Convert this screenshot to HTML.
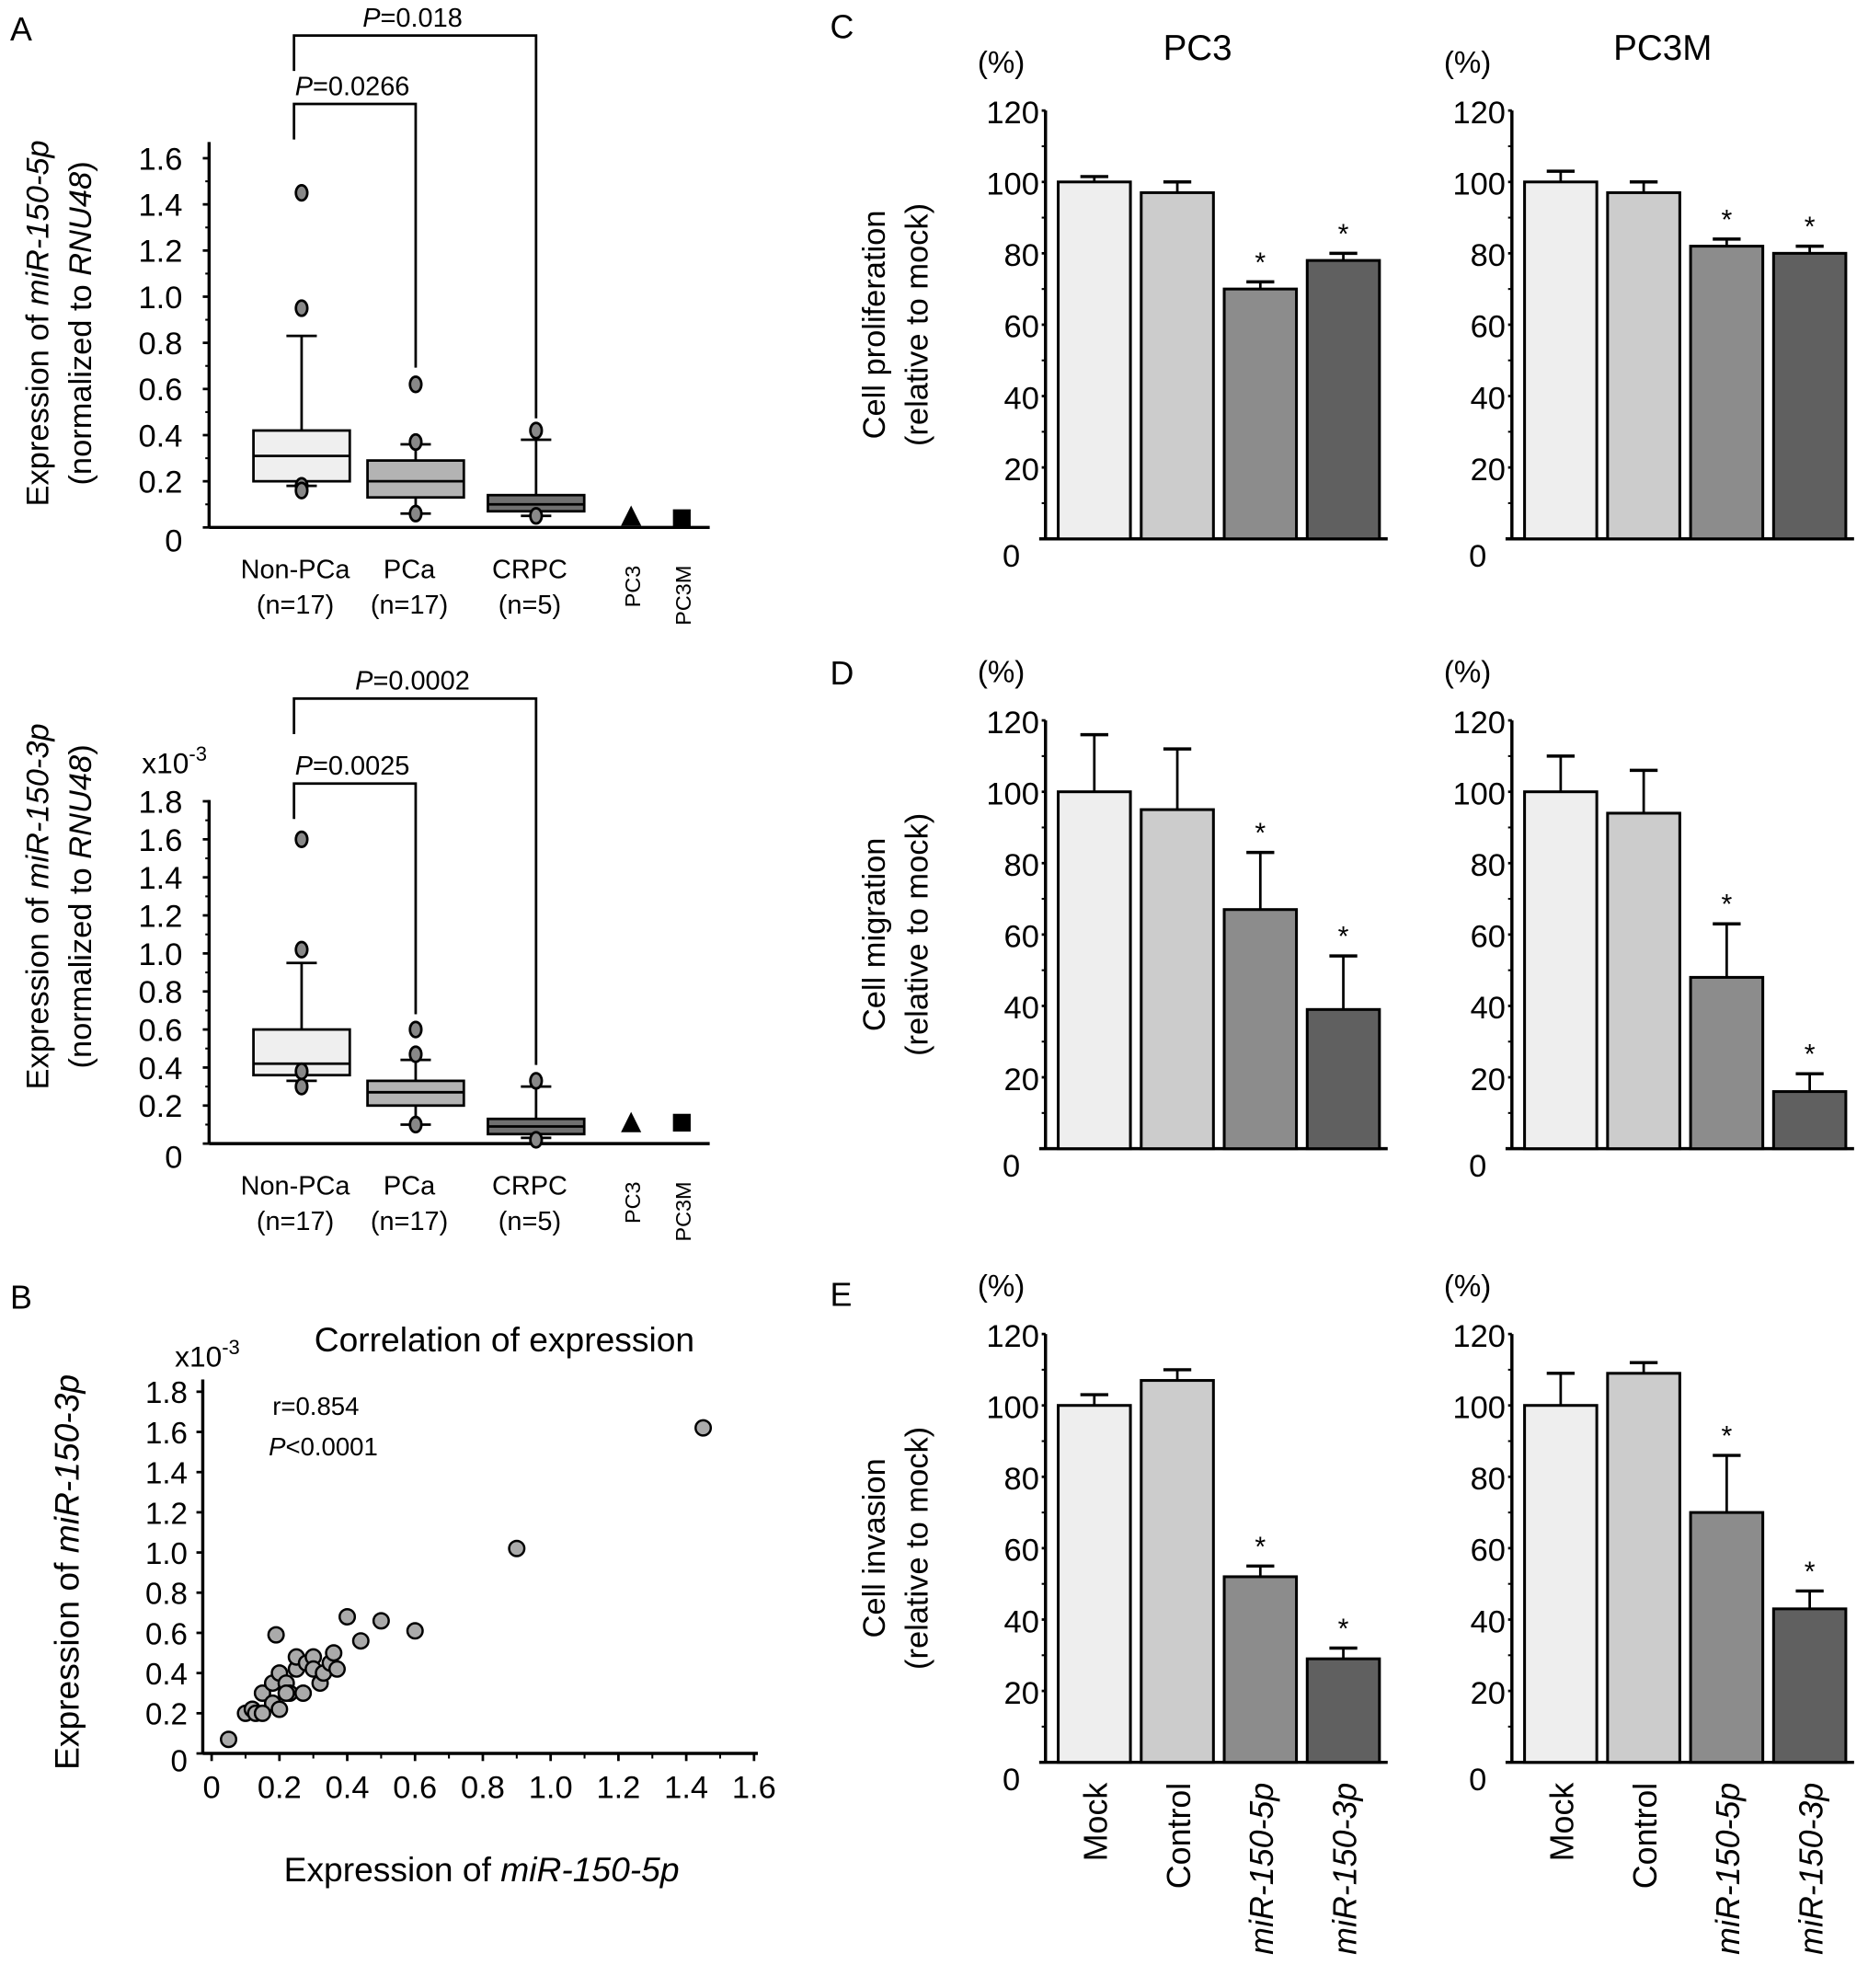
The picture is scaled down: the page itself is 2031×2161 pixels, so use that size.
<!DOCTYPE html>
<html><head><meta charset="utf-8"><style>
html,body{margin:0;padding:0;background:#fff}
svg{display:block;font-family:"Liberation Sans",Arial,sans-serif}
</style></head><body>
<svg id="fig" xmlns="http://www.w3.org/2000/svg" width="2031" height="2161" viewBox="0 0 1474 1568" preserveAspectRatio="none">
<g id="static" fill="#000">
<text x="8" y="32" font-size="26">A</text>
<text x="8" y="1032" font-size="26">B</text>
<text x="655" y="30" font-size="26">C</text>
<text x="655" y="540" font-size="26">D</text>
<text x="655" y="1030" font-size="26">E</text>
<text x="945" y="47" font-size="28" text-anchor="middle">PC3</text>
<text x="1312" y="47" font-size="28" text-anchor="middle">PC3M</text>
<g font-size="25" text-anchor="middle">
<text transform="translate(38,255) rotate(-90)">Expression  of <tspan font-style="italic">miR-150-5p</tspan></text>
<text transform="translate(72,255) rotate(-90)">(normalized to <tspan font-style="italic">RNU48</tspan>)</text>
<text transform="translate(38,715) rotate(-90)">Expression  of <tspan font-style="italic">miR-150-3p</tspan></text>
<text transform="translate(72,715) rotate(-90)">(normalized to <tspan font-style="italic">RNU48</tspan>)</text>
<text transform="translate(62,1240) rotate(-90)" font-size="27">Expression of <tspan font-style="italic">miR-150-3p</tspan></text>
<text x="380" y="1484" font-size="27">Expression of <tspan font-style="italic">miR-150-5p</tspan></text>
<text x="398" y="1066" font-size="27">Correlation of expression</text>
</g>
<text x="215" y="1116" font-size="20">r=0.854</text>
<text x="212" y="1148" font-size="20"><tspan font-style="italic">P</tspan>&lt;0.0001</text>
<text x="112" y="610" font-size="23">x10<tspan dy="-10" font-size="16">-3</tspan></text>
<text x="138" y="1078" font-size="23">x10<tspan dy="-10" font-size="16">-3</tspan></text>
</g>
<g id="dyn"></g>
</svg>
<script>
// ---- Panel A data ----
const groupsA = ["Non-PCa","PCa","CRPC"];
const groupNs = ["(n=17)","(n=17)","(n=5)"];
const cellLines = ["PC3","PC3M"];
const a5pQ1 = [0.20,0.13,0.07];
const a5pMed = [0.31,0.20,0.10];
const a5pQ3 = [0.42,0.29,0.14];
const a5pHi = [0.83,0.36,0.38];
const a5pLo = [0.18,0.06,0.05];
const a5pOut = [[1.45,0.95,0.18,0.16],[0.62,0.37,0.06],[0.42,0.05]];
const a5pCell = [0.04,0.04];
const a3pQ1 = [0.36,0.20,0.05];
const a3pMed = [0.42,0.27,0.09];
const a3pQ3 = [0.60,0.33,0.13];
const a3pHi = [0.95,0.44,0.30];
const a3pLo = [0.33,0.10,0.03];
const a3pOut = [[1.60,1.02,0.38,0.30],[0.60,0.47,0.10],[0.33,0.02]];
const a3pCell = [0.10,0.11];
const aTicks = ["0","0.2","0.4","0.6","0.8","1.0","1.2","1.4","1.6"];
const a3Ticks = ["0","0.2","0.4","0.6","0.8","1.0","1.2","1.4","1.6","1.8"];
const a5pPvals = ["0.0266","0.018"];
const a3pPvals = ["0.0025","0.0002"];
// ---- Panel B data ----
const scatX = [0.05,0.10,0.12,0.13,0.15,0.18,0.18,0.20,0.20,0.22,0.23,0.25,0.25,0.27,0.28,0.30,0.30,0.32,0.33,0.35,0.36,0.37,0.19,0.40,0.44,0.50,0.60,0.90,1.45,0.22,0.15];
const scatY = [0.07,0.20,0.22,0.20,0.30,0.25,0.35,0.22,0.40,0.35,0.30,0.42,0.48,0.30,0.45,0.48,0.42,0.35,0.40,0.45,0.50,0.42,0.59,0.68,0.56,0.66,0.61,1.02,1.62,0.30,0.20];
const bXTicks = ["0","0.2","0.4","0.6","0.8","1.0","1.2","1.4","1.6"];
const bYTicks = ["0","0.2","0.4","0.6","0.8","1.0","1.2","1.4","1.6","1.8"];
// ---- Panels C/D/E data ----
const barCats = ["Mock","Control","miR-150-5p","miR-150-3p"];
const barTicks = ["0","20","40","60","80","100","120"];
const profPC3 = [100,97,70,78], profPC3Err = [1.5,3,2,2];
const profPC3M = [100,97,82,80], profPC3MErr = [3,3,2,2];
const migPC3 = [100,95,67,39], migPC3Err = [16,17,16,15];
const migPC3M = [100,94,48,16], migPC3MErr = [10,12,15,5];
const invPC3 = [100,107,52,29], invPC3Err = [3,3,3,3];
const invPC3M = [100,109,70,43], invPC3MErr = [9,3,16,5];
const sigFlags = [false,false,true,true];

const NS="http://www.w3.org/2000/svg";
const root=document.getElementById('dyn');
function mk(tag,attrs,parent,text){const e=document.createElementNS(NS,tag);for(const k in attrs)e.setAttribute(k,attrs[k]);if(text!==undefined)e.textContent=text;(parent||root).appendChild(e);return e;}

// ---- Box plots ----
function boxPanel(o){
  const g=mk('g',{});
  
  
  const y=v=>o.y0-v*o.per;
  const xs=[238,328,423], cx=[498,538];
  mk('line',{x1:165,y1:o.top,x2:165,y2:o.y0,stroke:'#000','stroke-width':2.5},g);
  mk('line',{x1:165,y1:o.y0,x2:560,y2:o.y0,stroke:'#000','stroke-width':2.5},g);
  o.ticks.forEach((t,i)=>{
    const ty=y(i*0.2);
    mk('line',{x1:160,y1:ty,x2:165,y2:ty,stroke:'#000','stroke-width':2},g);
    if(i>0) mk('line',{x1:162,y1:y(i*0.2-0.1),x2:165,y2:y(i*0.2-0.1),stroke:'#000','stroke-width':1.5},g);
    const lab=mk('text',{x:144,y:ty+(i==0?19:9),'font-size':25,'text-anchor':'end'},g,t);
    
    
  });
  const fills=['#efefef','#b3b3b3','#707070'];
  groupsA.forEach((gname,i)=>{
    const x=xs[i], w=38;
    mk('line',{x1:x,y1:y(o.hi[i]),x2:x,y2:y(o.q3[i]),stroke:'#000','stroke-width':2},g);
    mk('line',{x1:x-12,y1:y(o.hi[i]),x2:x+12,y2:y(o.hi[i]),stroke:'#000','stroke-width':2},g);
    mk('line',{x1:x,y1:y(o.lo[i]),x2:x,y2:y(o.q1[i]),stroke:'#000','stroke-width':2},g);
    mk('line',{x1:x-12,y1:y(o.lo[i]),x2:x+12,y2:y(o.lo[i]),stroke:'#000','stroke-width':2},g);
    const b=mk('rect',{x:x-w,y:y(o.q3[i]),width:2*w,height:y(o.q1[i])-y(o.q3[i]),fill:fills[i],stroke:'#000','stroke-width':2},g);
    
    
    mk('line',{x1:x-w,y1:y(o.med[i]),x2:x+w,y2:y(o.med[i]),stroke:'#000','stroke-width':2},g);
    o.out[i].forEach(v=>{
      const c=mk('ellipse',{cx:x,cy:y(v),rx:4.5,ry:6,fill:'#888',stroke:'#000','stroke-width':2},g);
      
      
    });
    const l1=mk('text',{x:x-5,y:o.y0+40,'font-size':21,'text-anchor':'middle'},g,gname);
    
    
    mk('text',{x:x-5,y:o.y0+68,'font-size':21,'text-anchor':'middle'},g,groupNs[i]);
  });
  const tri=mk('path',{d:`M${cx[0]-8} ${y(o.cell[0])+6} L${cx[0]+8} ${y(o.cell[0])+6} L${cx[0]} ${y(o.cell[0])-10} Z`,fill:'#000'},g);
  
  
  const sq=mk('rect',{x:cx[1]-7,y:y(o.cell[1])-7,width:14,height:14,fill:'#000'},g);
  
  
  cellLines.forEach((c,i)=>{
    const t=mk('text',{transform:`translate(${cx[i]+7},${o.y0+30}) rotate(-90)`,'font-size':17,'text-anchor':'end'},g,c);
    
    
  });
  [[1,o.b1],[2,o.b2]].forEach(([j,by],k)=>{
    mk('path',{d:`M232 ${by+28} L232 ${by} L${xs[j]} ${by} L${xs[j]} ${o.bEnd[k]}`,fill:'none',stroke:'#000','stroke-width':2},g);
    const t=mk('text',{x:(232+xs[j])/2-2,y:by-7,'font-size':21,'text-anchor':'middle'},g);
    
    
    mk('tspan',{'font-style':'italic'},t,'P');
    mk('tspan',{},t,'='+o.pv[k]);
  });
}
boxPanel({name:'panel-a-5p',y0:416,per:182,top:112,ticks:aTicks,q1:a5pQ1,med:a5pMed,q3:a5pQ3,hi:a5pHi,lo:a5pLo,out:a5pOut,cell:a5pCell,b1:82,b2:28,bEnd:[290,330],pv:a5pPvals});
boxPanel({name:'panel-a-3p',y0:902,per:150,top:631,ticks:a3Ticks,q1:a3pQ1,med:a3pMed,q3:a3pQ3,hi:a3pHi,lo:a3pLo,out:a3pOut,cell:a3pCell,b1:618,b2:551,bEnd:[800,840],pv:a3pPvals});

// ---- Scatter ----
(function(){
  const g=mk('g',{});
  
  
  const x=v=>167+v*267.5, y=v=>1383-v*158.5;
  mk('line',{x1:160,y1:1088,x2:160,y2:1383,stroke:'#000','stroke-width':2.5},g);
  mk('line',{x1:160,y1:1383,x2:598,y2:1383,stroke:'#000','stroke-width':2.5},g);
  bYTicks.forEach((t,i)=>{
    const ty=y(i*0.2);
    mk('line',{x1:155,y1:ty,x2:160,y2:ty,stroke:'#000','stroke-width':2},g);
    const l=mk('text',{x:148,y:ty+(i==0?14:9),'font-size':24,'text-anchor':'end'},g,t);
    
    
  });
  bXTicks.forEach((t,i)=>{
    const tx=x(i*0.2);
    mk('line',{x1:tx,y1:1383,x2:tx,y2:1389,stroke:'#000','stroke-width':2},g);
    if(i<bXTicks.length-1) mk('line',{x1:x(i*0.2+0.1),y1:1383,x2:x(i*0.2+0.1),y2:1387,stroke:'#000','stroke-width':1.5},g);
    const l=mk('text',{x:tx,y:1418,'font-size':25,'text-anchor':'middle'},g,t);
    
    
  });
  scatX.forEach((v,i)=>{
    const c=mk('circle',{cx:x(v),cy:y(scatY[i]),r:6,fill:'#aaa',stroke:'#000','stroke-width':1.8},g);
    
    
  });
})();

// ---- Bar charts ----
const barFills=['#eeeeee','#cccccc','#8c8c8c','#606060'];
function barChart(name,ax,y0,vals,errs,labels,ytitle){
  const g=mk('g',{});
  
  
  const per=56.3/20, y=v=>y0-v*per;
  const top=y(120);
  mk('line',{x1:ax,y1:top,x2:ax,y2:y0,stroke:'#000','stroke-width':2.5},g);
  mk('line',{x1:ax-5,y1:y0,x2:ax+270,y2:y0,stroke:'#000','stroke-width':2.5},g);
  barTicks.forEach((t,i)=>{
    const ty=y(i*20);
    mk('line',{x1:ax-3,y1:ty,x2:ax,y2:ty,stroke:'#000','stroke-width':2},g);
    if(i>0) mk('line',{x1:ax-3,y1:y(i*20-10),x2:ax,y2:y(i*20-10),stroke:'#000','stroke-width':1.5},g);
    const l=mk('text',{x:i==0?ax-20:ax-5,y:ty+(i==0?22:10),'font-size':25,'text-anchor':'end'},g,t);
    
    
  });
  const p=mk('text',{x:ax-35,y:top-30,'font-size':24,'text-anchor':'middle'},g,'(%)');
  
  
  const bw=57, step=65.5, x0=ax+10;
  vals.forEach((v,i)=>{
    const bx=x0+i*step;
    const cx=bx+bw/2;
    const ey=y(v+errs[i]);
    mk('line',{x1:cx,y1:ey,x2:cx,y2:y(v),stroke:'#000','stroke-width':2},g);
    mk('line',{x1:cx-11,y1:ey,x2:cx+11,y2:ey,stroke:'#000','stroke-width':2.5},g);
    const r=mk('rect',{x:bx,y:y(v),width:bw,height:y0-y(v),fill:barFills[i],stroke:'#000','stroke-width':2.2},g);
    
    
    if(sigFlags[i]){
      const s=mk('text',{x:cx,y:ey-8,'font-size':22,'text-anchor':'middle'},g,'*');
      
      
    }
    if(labels){
      const l=mk('text',{transform:`translate(${cx+10},${y0+16}) rotate(-90)`,'font-size':26,'text-anchor':'end','font-style':i>=2?'italic':'normal'},g,barCats[i]);
      
      
    }
  });
  if(ytitle){
    const cy=(top+y0)/2;
    const t1=mk('text',{transform:`translate(${ax-127},${cy}) rotate(-90)`,'font-size':25,'text-anchor':'middle'},g,ytitle);
    
    
    mk('text',{transform:`translate(${ax-93},${cy}) rotate(-90)`,'font-size':25,'text-anchor':'middle'},g,'(relative to mock)');
  }
}
barChart('proliferation-pc3',825,425,profPC3,profPC3Err,false,'Cell proliferation');
barChart('proliferation-pc3m',1193,425,profPC3M,profPC3MErr,false,null);
barChart('migration-pc3',825,906,migPC3,migPC3Err,false,'Cell migration');
barChart('migration-pc3m',1193,906,migPC3M,migPC3MErr,false,null);
barChart('invasion-pc3',825,1390,invPC3,invPC3Err,true,'Cell invasion');
barChart('invasion-pc3m',1193,1390,invPC3M,invPC3MErr,true,null);
</script>
</body></html>
